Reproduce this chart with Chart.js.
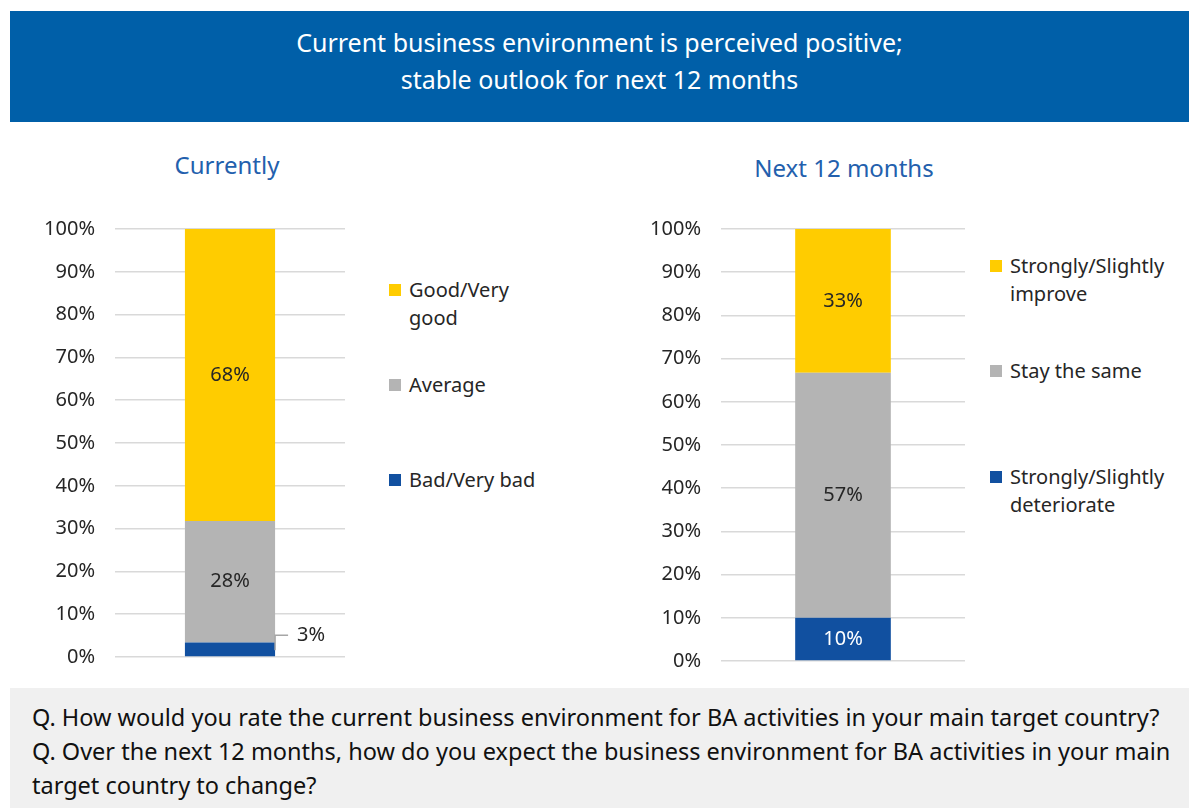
<!DOCTYPE html>
<html>
<head>
<meta charset="utf-8">
<script src="https://cdn.jsdelivr.net/npm/chart.js@4"></script>
<style>
  body { margin: 0; width: 1189px; height: 808px; background: #fff; position: relative; overflow: hidden; font-family: "Noto Sans", sans-serif; }
  #banner { position: absolute; left: 10px; top: 11px; width: 1179px; height: 111px; background: #005fa8; color: #fff; text-align: center; font-size: 25px; line-height: 37px; padding-top: 13px; box-sizing: border-box; }
  .titulo { position: absolute; color: #2360ad; font-size: 24px; text-align: center; }
  .quadro { position: absolute; }
  .legenda { position: absolute; font-size: 20px; color: #262626; line-height: 28px; }
  .legenda .item { position: absolute; left: 0; padding-left: 20px; }
  .legenda .quad { position: absolute; left: 0; top: 8px; width: 12px; height: 12px; }
  #perguntas { position: absolute; left: 10px; top: 688px; width: 1179px; height: 120px; background: #f0f0f0; color: #111; font-size: 23.5px; line-height: 34px; padding: 12px 0 0 22px; box-sizing: border-box; }
</style>
</head>
<body>
<div id="banner">Current business environment is perceived positive;<br>stable outlook for next 12 months</div>

<div class="titulo" style="left:127px; top:148px; width:200px;">Currently</div>
<div class="titulo" style="left:724px; top:151px; width:240px;">Next 12 months</div>

<div class="quadro" style="left:0; top:197px; width:360px; height:492px;"><canvas id="grafico1"></canvas></div>
<div class="quadro" style="left:600px; top:197px; width:380px; height:496px;"><canvas id="grafico2"></canvas></div>

<div class="legenda" id="legenda1" style="left:389px; top:0;"></div>
<div class="legenda" id="legenda2" style="left:990px; top:0;"></div>

<div id="perguntas">Q. How would you rate the current business environment for BA activities in your main target country?<br>Q. Over the next 12 months, how do you expect the business environment for BA activities in your main target country to change?</div>

<script>
// dados (em %)
const categorias = ["Bad/Very bad", "Average", "Good/Very good"];
const valoresAtual = [3.4, 28.4, 68.2];
const categoriasFuturo = ["Strongly/Slightly deteriorate", "Stay the same", "Strongly/Slightly improve"];
const valoresFuturo = [10, 56.7, 33.3];
const cores = ["#1150a0", "#b4b4b4", "#ffcc00"];
const coresRotulo = ["#262626", "#262626", "#262626"];
const ticksY = [0, 10, 20, 30, 40, 50, 60, 70, 80, 90, 100];

const fonte = "'Noto Sans', sans-serif";

// rotulos de valor no meio da barra (ou fora, com linha, quando for pequeno)
const rotulos = {
  id: "rotulos",
  afterDatasetsDraw(chart) {
    const ctx = chart.ctx;
    ctx.save();
    ctx.font = "20px " + fonte;
    ctx.textBaseline = "middle";
    chart.data.datasets.forEach((ds, i) => {
      const meta = chart.getDatasetMeta(i);
      meta.data.forEach((bar, j) => {
        const v = ds.data[j];
        const txt = Math.round(v) + "%";
        const meio = (bar.y + bar.base) / 2;
        if (v < 5) {
          const xd = bar.x + bar.width / 2;
          ctx.strokeStyle = "#a6a6a6";
          ctx.lineWidth = 1.5;
          ctx.beginPath();
          ctx.moveTo(xd, meio + 1);
          ctx.lineTo(xd, meio - 14);
          ctx.lineTo(xd + 13, meio - 14);
          ctx.stroke();
          ctx.fillStyle = "#262626";
          ctx.textAlign = "left";
          ctx.fillText(txt, xd + 22, meio - 14);
        } else {
          ctx.fillStyle = ds.corTexto;
          ctx.textAlign = "center";
          ctx.fillText(txt, bar.x, meio);
        }
      });
    });
    ctx.restore();
  }
};

function criarGrafico(id, nomes, valores, larguraEixo, corTextoAzul) {
  const datasets = nomes.map((n, i) => ({
    label: n,
    data: [valores[i]],
    backgroundColor: cores[i],
    corTexto: i === 0 ? corTextoAzul : coresRotulo[i],
    barPercentage: 0.8,
    categoryPercentage: 0.49,
  }));
  return new Chart(document.getElementById(id), {
    type: "bar",
    data: { labels: [""], datasets: datasets },
    plugins: [rotulos],
    options: {
      responsive: true,
      maintainAspectRatio: false,
      animation: false,
      layout: { padding: { top: 25, right: 15, bottom: 14, left: 0 } },
      plugins: { legend: { display: false }, tooltip: { enabled: false } },
      scales: {
        x: { stacked: true, display: false },
        y: {
          stacked: true,
          min: 0,
          max: 100,
          afterFit: (s) => { s.width = larguraEixo; },
          afterBuildTicks: (s) => { s.ticks = ticksY.map((v) => ({ value: v })); },
          border: { display: false },
          grid: { color: "#d9d9d9", lineWidth: 1.5, drawTicks: false },
          ticks: {
            padding: 20,
            color: "#262626",
            font: { family: fonte, size: 20 },
            callback: (v) => v + "%",
          },
        },
      },
    },
  });
}

criarGrafico("grafico1", categorias, valoresAtual, 115, "#262626");
criarGrafico("grafico2", categoriasFuturo, valoresFuturo, 121, "#ffffff");

// legenda em html (de cima pra baixo = ultima serie primeiro)
function montarLegenda(id, nomes, topos, largura) {
  const el = document.getElementById(id);
  nomes.slice().reverse().forEach((n, k) => {
    const i = nomes.length - 1 - k;
    const item = document.createElement("div");
    item.className = "item";
    item.style.top = topos[k] + "px";
    item.style.width = largura + "px";
    item.innerHTML = '<span class="quad" style="background:' + cores[i] + '"></span>' + n;
    el.appendChild(item);
  });
}
montarLegenda("legenda1", categorias, [276, 371, 466], 130);
montarLegenda("legenda2", categoriasFuturo, [252, 357, 463], 180);
</script>
</body>
</html>
